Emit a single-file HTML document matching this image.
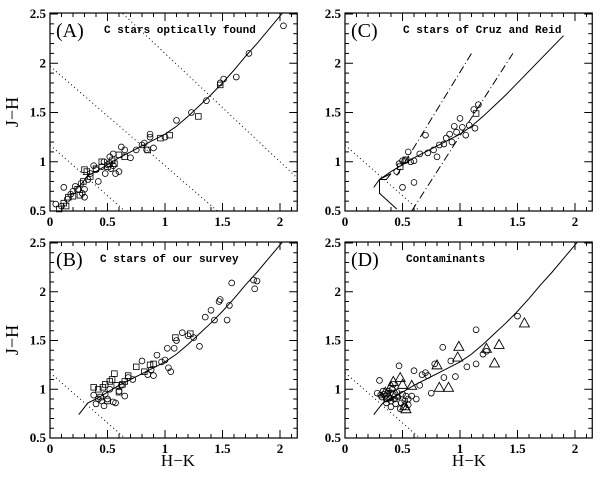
<!DOCTYPE html>
<html><head><meta charset="utf-8"><style>
html,body{margin:0;padding:0;background:#fff;overflow:hidden;width:600px;height:477px}
svg{display:block}
text{font-family:"Liberation Serif",serif;fill:#000}
</style></head><body>
<svg id="fig" width="600" height="477" viewBox="0 0 600 477" xmlns="http://www.w3.org/2000/svg"></svg>
<script>
const xTicks=[0,0.5,1,1.5,2];
const yTicks=[0.5,1,1.5,2,2.5];
const xTickLabels=["0","0.5","1","1.5","2"];
const yTickLabels=["0.5","1","1.5","2","2.5"];
const seqX=[0.25,0.33,0.4,0.5,0.6,0.7,0.8,0.9,1.0,1.1,1.2,1.3,1.4,1.5,1.6,1.7,1.8,1.9,2.0,2.1];
const seqY=[0.74,0.86,0.9,0.97,1.04,1.1,1.16,1.22,1.28,1.36,1.46,1.57,1.68,1.8,1.93,2.07,2.2,2.34,2.48,2.62];
const seqCX=[0.25,0.3,0.4,0.5,0.6,0.7,0.8,0.9,1.0,1.1,1.2,1.3,1.4,1.5,1.9];
const seqCY=[0.74,0.82,0.9,0.97,1.04,1.1,1.16,1.22,1.28,1.36,1.46,1.57,1.68,1.8,2.28];
const aCircles=[[0.05,0.57],[0.1,0.55],[0.12,0.74],[0.15,0.62],[0.18,0.67],[0.2,0.7],[0.22,0.75],[0.25,0.72],[0.27,0.78],[0.28,0.68],[0.3,0.72],[0.3,0.64],[0.33,0.82],[0.35,0.88],[0.38,0.96],[0.4,0.92],[0.42,0.8],[0.45,0.95],[0.47,1.0],[0.48,0.88],[0.5,0.97],[0.52,1.05],[0.53,0.93],[0.55,1.08],[0.55,0.96],[0.57,0.88],[0.6,0.9],[0.62,1.15],[0.65,1.12],[0.7,1.04],[0.75,1.12],[0.8,1.17],[0.82,1.19],[0.84,1.12],[0.87,1.28],[0.87,1.25],[0.9,1.14],[1.0,1.25],[1.1,1.42],[1.23,1.5],[1.36,1.62],[1.48,1.8],[1.51,1.84],[1.62,1.86],[1.73,2.1],[2.03,2.38]];
const aSquares=[[0.08,0.52],[0.12,0.58],[0.14,0.55],[0.16,0.64],[0.2,0.65],[0.24,0.72],[0.26,0.66],[0.29,0.8],[0.3,0.92],[0.32,0.9],[0.35,0.85],[0.4,0.93],[0.45,1.0],[0.5,0.95],[0.52,0.98],[0.54,1.01],[0.56,0.98],[0.6,1.07],[0.65,1.05],[0.85,1.12],[0.96,1.24],[1.04,1.27],[1.29,1.46],[1.48,1.78]];
const cCircles=[[0.45,0.9],[0.47,0.98],[0.5,1.01],[0.52,1.01],[0.55,1.1],[0.57,1.0],[0.6,1.01],[0.6,0.79],[0.5,0.74],[0.65,1.08],[0.7,1.27],[0.72,1.09],[0.77,1.12],[0.8,1.05],[0.82,1.17],[0.86,1.18],[0.88,1.24],[0.91,1.28],[0.93,1.2],[0.95,1.36],[0.97,1.3],[1.0,1.44],[1.02,1.35],[1.05,1.27],[1.08,1.37],[1.12,1.53],[1.13,1.34],[1.16,1.58]];
const cSquares=[[0.48,0.95],[0.53,1.02],[1.14,1.49]];
const bCircles=[[0.38,0.94],[0.4,0.85],[0.42,0.9],[0.45,0.88],[0.47,0.83],[0.48,0.95],[0.5,0.9],[0.52,1.0],[0.55,0.87],[0.57,0.86],[0.6,0.98],[0.62,1.04],[0.65,0.93],[0.68,1.12],[0.72,1.1],[0.8,1.29],[0.85,1.15],[0.88,1.2],[0.9,1.14],[0.93,1.35],[0.97,1.28],[1.0,1.3],[1.02,1.42],[1.03,1.22],[1.05,1.18],[1.08,1.42],[1.1,1.5],[1.15,1.58],[1.2,1.55],[1.25,1.53],[1.3,1.44],[1.35,1.74],[1.4,1.81],[1.43,1.71],[1.47,1.9],[1.48,1.92],[1.54,1.71],[1.56,1.86],[1.58,2.09],[1.77,2.12],[1.78,2.03],[1.8,2.11]];
const bSquares=[[0.38,1.02],[0.42,1.0],[0.44,0.92],[0.46,1.02],[0.48,1.05],[0.5,0.88],[0.52,1.08],[0.54,1.1],[0.56,1.16],[0.58,1.04],[0.6,0.97],[0.63,1.05],[0.65,1.08],[0.68,1.14],[0.75,1.23],[0.82,1.18],[0.87,1.25],[0.9,1.26],[1.09,1.53],[1.22,1.57]];
const dCircles=[[0.28,0.96],[0.3,1.09],[0.32,0.92],[0.34,0.95],[0.36,0.9],[0.38,0.98],[0.4,0.88],[0.42,0.95],[0.44,0.85],[0.46,0.92],[0.47,1.24],[0.48,0.8],[0.5,0.95],[0.52,0.88],[0.55,0.9],[0.58,0.93],[0.6,1.19],[0.62,0.9],[0.65,1.04],[0.67,1.15],[0.7,1.17],[0.72,1.14],[0.75,0.96],[0.78,1.26],[0.85,1.43],[0.86,1.12],[0.92,1.29],[0.96,1.13],[1.06,1.23],[1.14,1.61],[1.14,1.26],[1.2,1.36],[1.23,1.39],[1.5,1.75],[0.33,0.98],[0.35,0.93],[0.37,0.96],[0.39,0.91],[0.41,1.0],[0.43,0.9],[0.45,0.97],[0.49,0.86],[0.51,0.82],[0.53,0.93],[0.4,0.82],[0.36,0.86],[0.31,0.94],[0.42,1.05],[0.55,0.84]];
const dTriangles=[[0.35,0.97],[0.38,0.93],[0.4,1.03],[0.42,1.08],[0.44,0.95],[0.48,1.12],[0.5,1.05],[0.52,0.83],[0.53,0.8],[0.58,1.04],[0.8,1.25],[0.82,1.02],[0.9,1.02],[0.98,1.33],[0.99,1.44],[1.23,1.42],[1.3,1.27],[1.34,1.46],[1.56,1.68]];
const dottedA=[[1.17,1.03],[1.97,1.01],[3.2,1.1]];
const dottedOther=[[1.17,1.03]];
const dashC=[[[0.45,0.86],[1.1,2.1]],[[0.58,0.5],[1.46,2.1]]];

const NS="http://www.w3.org/2000/svg";
const svg=document.getElementById('fig');
function el(t,a,p){const e=document.createElementNS(NS,t);for(const k in a)e.setAttribute(k,a[k]);(p||svg).appendChild(e);return e;}
const SX=115;
function makePanel(name,x0,yB,sy){
  const g=el('g',{});
  
  
  const X=v=>x0+v*SX, Y=v=>yB-(v-0.5)*sy;
  return {g,X,Y,x0,yB,sy,xR:X(2.15),yT:Y(2.51)};
}
function frame(P){
  const g=P.g;
  const cp='clip'+P.x0+P.yB;
  const cl=el('clipPath',{id:cp},g);el('rect',{x:P.x0,y:P.yT,width:P.xR-P.x0,height:P.yB-P.yT},cl);
  P.clip='url(#'+cp+')';
  const r=el('rect',{x:P.x0,y:P.yT,width:P.xR-P.x0,height:P.yB-P.yT,fill:'none',stroke:'#000','stroke-width':1.2},g);
  
  for(let i=0;i<=21;i++){const v=i/10,x=P.X(v),L=(i%5==0)?8:4;
    el('line',{x1:x,x2:x,y1:P.yB,y2:P.yB-L,stroke:'#000'},g);el('line',{x1:x,x2:x,y1:P.yT,y2:P.yT+L,stroke:'#000'},g);}
  for(let i=5;i<=25;i++){const v=i/10,y=P.Y(v),L=(i%5==0)?8:4;
    el('line',{x1:P.x0,x2:P.x0+L,y1:y,y2:y,stroke:'#000'},g);el('line',{x1:P.xR,x2:P.xR-L,y1:y,y2:y,stroke:'#000'},g);}
  xTicks.forEach((v,i)=>{const t=el('text',{x:P.X(v),y:P.yB+15,'text-anchor':'middle','font-size':13,'font-weight':'bold'},g);t.textContent=xTickLabels[i];
    });
  yTicks.forEach((v,i)=>{const t=el('text',{x:P.x0-4,y:P.Y(v)+4,'text-anchor':'end','font-size':13,'font-weight':'bold'},g);t.textContent=yTickLabels[i];
    });
}
function curve(P,xs,ys,nm){
  const p=el('polyline',{points:xs.map((x,i)=>P.X(x)+','+P.Y(ys[i])).join(' '),fill:'none',stroke:'#000','stroke-width':1,'clip-path':P.clip},P.g);
  
}
function dotted(P,list){list.forEach(([b,m])=>{
  const l=el('line',{x1:P.X(0),y1:P.Y(b),x2:P.X(2.15),y2:P.Y(b-m*2.15),stroke:'#000','stroke-dasharray':'1 3','stroke-width':1,'clip-path':P.clip},P.g);
  });}
function marks(P,pts,kind){pts.forEach(([x,y])=>{const cx=P.X(x),cy=P.Y(y);let m;
  if(kind=='c')m=el('circle',{cx,cy,r:2.9,fill:'none',stroke:'#000','stroke-width':0.8},P.g);
  else if(kind=='s')m=el('rect',{x:cx-2.8,y:cy-2.8,width:5.6,height:5.6,fill:'none',stroke:'#000','stroke-width':0.8},P.g);
  else m=el('polygon',{points:`${cx},${cy-5} ${cx-5},${cy+4} ${cx+5},${cy+4}`,fill:'none',stroke:'#000','stroke-width':0.9},P.g);
  
  });}
function label(P,letter,title,tx){
  const a=el('text',{x:P.x0+6,y:P.yT+24,'font-size':20},P.g);a.textContent=letter;
  
  const b=el('text',{x:tx,y:P.yT+20,style:'font-family:"Liberation Mono",monospace;font-size:11px;font-weight:bold'},P.g);b.textContent=title;
  
}
const A=makePanel('panel-a',50,211,98.5),C=makePanel('panel-c',345,211,98.5),B=makePanel('panel-b',50,438,97.5),D=makePanel('panel-d',345,438,97.5);
[A,B,C,D].forEach(frame);
curve(A,seqX,seqY,'sequence-curve');curve(B,seqX,seqY,'sequence-curve');curve(D,seqX,seqY,'sequence-curve');curve(C,seqCX,seqCY,'sequence-curve');
curve(C,[0.3,0.3,0.45],[0.82,0.68,0.52],'curve-hook');
curve(C,[0.3,0.4,0.36,0.3],[0.82,0.88,0.82,0.82],'curve-hook');
dotted(A,dottedA);dotted(B,dottedOther);dotted(C,dottedOther);dotted(D,dottedOther);
dashC.forEach(([p,q])=>{const l=el('line',{x1:C.X(p[0]),y1:C.Y(p[1]),x2:C.X(q[0]),y2:C.Y(q[1]),stroke:'#000','stroke-dasharray':'8 3 1 3','clip-path':C.clip},C.g);
  });
marks(A,aCircles,'c');marks(A,aSquares,'s');marks(C,cCircles,'c');marks(C,cSquares,'s');
marks(B,bCircles,'c');marks(B,bSquares,'s');marks(D,dCircles,'c');marks(D,dTriangles,'t');
label(A,'(A)','C stars optically found',104);label(C,'(C)','C stars of Cruz and Reid',403);
label(B,'(B)','C stars of our survey',100);label(D,'(D)','Contaminants',406);
[[18,112],[18,340]].forEach(([x,y])=>{const t=el('text',{x,y,'font-size':18,'text-anchor':'middle',transform:`rotate(-90 ${x} ${y})`});t.textContent='J−H';
  });
[[178,466],[469,466]].forEach(([x,y])=>{const t=el('text',{x,y,'font-size':17,'text-anchor':'middle'});t.textContent='H−K';
  });
</script>
</body></html>
